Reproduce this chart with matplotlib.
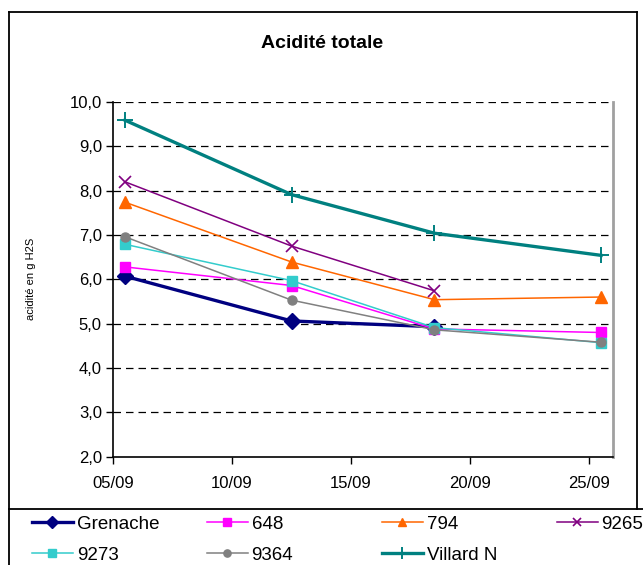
import matplotlib
matplotlib.use('Agg')
import matplotlib.pyplot as plt
import matplotlib.ticker as ticker
from matplotlib.lines import Line2D
import numpy as np

plt.rcParams['font.family'] = ['Liberation Sans', 'DejaVu Sans']

# sampling days (September); Excel centres points in the day slot
days = [5, 12, 18, 25]
tick_days = [5, 10, 15, 20, 25]

grenache = [6.07, 5.06, 4.93, np.nan]
v648 = [6.28, 5.86, 4.88, 4.80]
v794 = [7.74, 6.39, 5.54, 5.60]
v9265 = [8.20, 6.75, 5.74, np.nan]
v9273 = [6.79, 5.97, 4.91, 4.57]
v9364 = [6.96, 5.53, 4.86, 4.58]
villard = [9.59, 7.91, 7.04, 6.54]

labels = ['Grenache', '648', '794', '9265', '9273', '9364', 'Villard N']

W, H = 643, 565
fig = plt.figure(figsize=(W / 100, H / 100), dpi=100)
ax = fig.add_axes([113 / W, 1 - 456.6 / H, 500 / W, 354.6 / H])

x = np.array(days) + 0.5

styles = [
    (grenache, dict(color='#000080', lw=2.4, marker='D', ms=8)),
    (v648, dict(color='#FF00FF', lw=1.1, marker='s', ms=6.5)),
    (v794, dict(color='#FF6600', lw=1.1, marker='^', ms=8)),
    (v9265, dict(color='#800080', lw=1.1, marker='x', ms=8, mew=1.2)),
    (v9273, dict(color='#33CCCC', lw=1.1, marker='s', ms=7.5)),
    (v9364, dict(color='#808080', lw=1.1, marker='o', ms=6.5)),
    (villard, dict(color='#008080', lw=2.4, marker='+', ms=11, mew=1.4)),
]

handles = []
for (vals, st), lab in zip(styles, labels):
    ln, = ax.plot(x, vals, label=lab, zorder=3, clip_on=False, **st)
    handles.append(ln)

ax.set_xlim(5, 26)
ax.set_ylim(2, 10)
ax.set_xticks(tick_days)
ax.set_xticklabels([f'{d:02d}/09' for d in tick_days])
ax.set_yticks(np.arange(2, 10.5, 1))
ax.yaxis.set_major_formatter(ticker.FuncFormatter(lambda v, _: f'{v:.1f}'.replace('.', ',')))
ax.tick_params(axis='both', labelsize=12, length=5, width=1, direction='out', pad=3)
ax.tick_params(axis='x', pad=9)

for yv in range(3, 11):
    ax.axhline(yv, color='black', lw=0.9, ls=(0, (6, 4)), zorder=1)

ax.spines['top'].set_visible(False)
ax.spines['right'].set_color('#A0A0A0')
ax.spines['right'].set_linewidth(2)
ax.spines['left'].set_linewidth(1.2)
ax.spines['bottom'].set_linewidth(1.2)

ax.set_ylabel('acidité en g H2S', fontsize=8)
ax.yaxis.set_label_coords((36 - 113) / 500, 0.5)

fig.text(322 / W, 1 - 44 / H, 'Acidité totale', fontsize=14, fontweight='bold',
         ha='center', va='center')

# chart border and legend box
fig.add_artist(Line2D([9 / W, 9 / W], [0, 1 - 12 / H], color='black', lw=1.3))
fig.add_artist(Line2D([9 / W, 637 / W], [1 - 12 / H, 1 - 12 / H], color='black', lw=1.3))
fig.add_artist(Line2D([637 / W, 637 / W], [1 - 12 / H, 1 - 509 / H], color='black', lw=1.3))
fig.add_artist(Line2D([9 / W, 1], [1 - 509 / H, 1 - 509 / H], color='black', lw=1.3))

# legend: four evenly spaced columns
cols = [[0, 4], [1, 5], [2, 6], [3]]
for i, idx in enumerate(cols):
    leg = fig.legend([handles[k] for k in idx], [labels[k] for k in idx],
                     loc='upper left', bbox_to_anchor=((26 + 175 * i) / W, 1 - 510 / H),
                     frameon=False, fontsize=13.5, handlelength=2.2, handletextpad=0.2,
                     labelspacing=0.75, borderpad=0.3, borderaxespad=0, markerscale=0.8)

fig.savefig('out.png', dpi=100)
